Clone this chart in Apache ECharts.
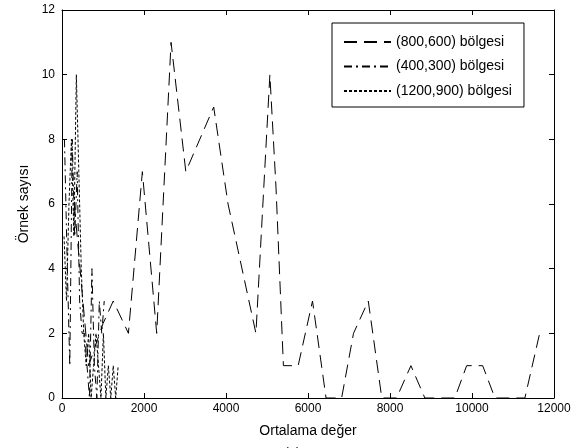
<!DOCTYPE html>
<html>
<head>
<meta charset="utf-8">
<script src="https://cdn.jsdelivr.net/npm/echarts@6/dist/echarts.min.js"></script>
<style>
  html, body { margin: 0; padding: 0; background: #fff; }
  #chart { width: 585px; height: 448px; }
</style>
</head>
<body>
<div id="chart"></div>
<script>
// (800,600) bölgesi
const aX = [300, 650, 1000, 1250, 1620, 1960, 2310, 2660, 3020, 3700, 4050, 4730, 5070, 5220, 5400, 5760, 6110, 6440, 6820, 7110, 7470, 7800, 8160, 8510, 8850, 9580, 9870, 10260, 10560, 11290, 11650];
const aY = [6, 1, 2.3, 3, 2, 7, 2, 11, 7, 9, 6, 2, 10, 6.5, 1, 1, 3, 0, 0, 2, 3, 0, 0, 1, 0, 0, 1, 1, 0, 0, 2];
// (400,300) bölgesi
const bX = [60, 130, 190, 250, 310, 370, 430, 490, 550, 610, 670, 730, 790, 850, 910, 970, 1030];
const bY = [8, 4, 1, 8, 5, 7, 3, 2, 2, 1, 0, 4, 1, 0, 3, 2, 3];
// (1200,900) bölgesi
const cX = [50, 110, 170, 230, 290, 350, 410, 470, 530, 590, 650, 710, 770, 830, 890, 950, 1010, 1070, 1130, 1190, 1250, 1310, 1370];
const cY = [5, 3, 6, 8, 5, 10, 7, 4, 2, 1, 2, 0, 1, 2, 1, 0, 2, 0, 1, 0, 1, 0, 1];

const seriesNames = ["(800,600) bölgesi", "(400,300) bölgesi", "(1200,900) bölgesi"];
const xTicks = [0, 2000, 4000, 6000, 8000, 10000, 12000];
const yTicks = [0, 2, 4, 6, 8, 10, 12];

const zip = (xs, ys) => xs.map((x, i) => [x, ys[i]]);
const font = "Liberation Sans, Arial, sans-serif";

const chart = echarts.init(document.getElementById("chart"));

function axisX(pos, showLabel) {
  return {
    type: "value",
    position: pos,
    min: xTicks[0],
    max: xTicks[xTicks.length - 1],
    interval: 2000,
    axisLine: { show: true, onZero: false, lineStyle: { color: "#000", width: 1 } },
    axisTick: { show: true, inside: true, length: 5, lineStyle: { color: "#000" } },
    axisLabel: { show: showLabel, color: "#000", fontSize: 12, fontFamily: font, margin: 5, formatter: (v) => String(v) },
    splitLine: { show: false },
  };
}
function axisY(pos, showLabel) {
  return {
    type: "value",
    position: pos,
    min: yTicks[0],
    max: yTicks[yTicks.length - 1],
    interval: 2,
    axisLine: { show: true, onZero: false, lineStyle: { color: "#000", width: 1 } },
    axisTick: { show: true, inside: true, length: 5, lineStyle: { color: "#000" } },
    axisLabel: { show: showLabel, color: "#000", fontSize: 12, fontFamily: font, margin: 7 },
    splitLine: { show: false },
  };
}

const xMain = axisX("bottom", true);
xMain.name = "Ortalama değer";
xMain.nameLocation = "middle";
xMain.nameGap = 26;
xMain.nameTextStyle = { color: "#000", fontSize: 14, fontFamily: font };
const yMain = axisY("left", true);
yMain.name = "Örnek sayısı";
yMain.nameLocation = "middle";
yMain.nameGap = 27;
yMain.nameTextStyle = { color: "#000", fontSize: 14, fontFamily: font };

const lineOf = (name, data, dash) => ({
  name: name,
  type: "line",
  data: data,
  symbol: "none",
  xAxisIndex: 0,
  yAxisIndex: 0,
  lineStyle: { color: "#000", width: 1, type: dash },
  itemStyle: { color: "#000" },
});

chart.setOption({
  animation: false,
  backgroundColor: "#fff",
  title: {
    text: "(a)",
    left: "center",
    top: 441,
    textStyle: { color: "#000", fontSize: 13, fontWeight: "normal", fontFamily: font },
  },
  grid: { left: 62, right: 31, top: 10, bottom: 50 },
  legend: {
    orient: "vertical",
    left: 332,
    top: 23,
    data: seriesNames,
    itemWidth: 47,
    itemHeight: 14,
    itemGap: 10.5,
    padding: [12, 12, 9, 11],
    borderColor: "#000",
    borderWidth: 1,
    backgroundColor: "#fff",
    itemStyle: { color: "transparent", borderWidth: 0, opacity: 0 },
    textStyle: { color: "#000", fontSize: 14, fontFamily: font },
  },
  xAxis: [xMain, axisX("top", false)],
  yAxis: [yMain, axisY("right", false)],
  series: [
    lineOf(seriesNames[0], zip(aX, aY), [13, 7]),
    lineOf(seriesNames[1], zip(bX, bY), [8, 4, 2, 4]),
    lineOf(seriesNames[2], zip(cX, cY), [3, 2]),
  ],
});
</script>
</body>
</html>
